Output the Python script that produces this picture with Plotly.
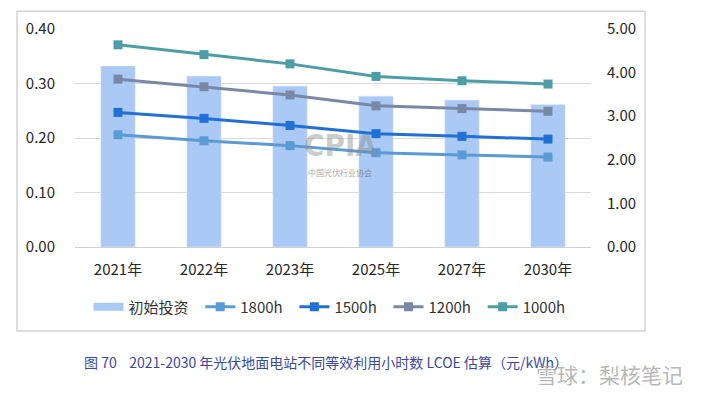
import plotly.graph_objects as go

years = ["2021年", "2022年", "2023年", "2025年", "2027年", "2030年"]
investment = [4.15, 3.92, 3.69, 3.46, 3.37, 3.27]
lcoe_1800 = [0.206, 0.195, 0.186, 0.173, 0.169, 0.165]
lcoe_1500 = [0.247, 0.236, 0.223, 0.208, 0.203, 0.198]
lcoe_1200 = [0.308, 0.294, 0.279, 0.259, 0.254, 0.249]
lcoe_1000 = [0.371, 0.353, 0.336, 0.313, 0.305, 0.299]
left_ticks = [0, 0.1, 0.2, 0.3, 0.4]
right_ticks = [0, 1, 2, 3, 4, 5]

FONT = "Noto Sans CJK SC, Microsoft YaHei, sans-serif"
TXT = "#262626"
BAR_COLOR = "#ABC9F5"
PAD = "\u00a0\u00a0"

fig = go.Figure()
fig.add_trace(go.Bar(x=years, y=investment, name="初始投资", marker_color=BAR_COLOR,
                     width=0.4, yaxis="y", showlegend=False))
# legend entry for the bars drawn as a wide flat swatch (as in the reference)
fig.add_trace(go.Scatter(x=[None], y=[None], name="初始投资" + PAD, mode="lines",
                         line=dict(color=BAR_COLOR, width=8), yaxis="y"))
series = [("1800h", lcoe_1800, "#5A9AD5"), ("1500h", lcoe_1500, "#2070D5"),
          ("1200h", lcoe_1200, "#7888A6"), ("1000h", lcoe_1000, "#4D9DA7")]
for name, vals, col in series:
    fig.add_trace(go.Scatter(x=years, y=vals, name=name + PAD, mode="lines+markers",
                             line=dict(color=col, width=3),
                             marker=dict(symbol="square", size=9, color=col),
                             yaxis="y2"))

fig.update_layout(
    width=705, height=394,
    margin=dict(l=75, r=114, t=28.7, b=147),
    paper_bgcolor="white", plot_bgcolor="white",
    font=dict(family=FONT, size=15, color=TXT),
    showlegend=True,
    legend=dict(orientation="h", x=0.50, xanchor="center", y=-0.275, yanchor="middle",
                font=dict(size=15, color="#333333"), itemwidth=30, traceorder="normal",
                bgcolor="rgba(0,0,0,0)"),
    xaxis=dict(showgrid=False, showline=True, linecolor="#D0D0D0", linewidth=1,
               ticks="", ticklabelstandoff=9, tickfont=dict(size=15, color=TXT)),
    yaxis=dict(side="right", range=[0, 5], tickvals=right_ticks, tickformat=".2f",
               showgrid=False, zeroline=False, ticklabelstandoff=15,
               tickfont=dict(size=15, color=TXT)),
    yaxis2=dict(side="left", overlaying="y", range=[0, 0.4], tickvals=left_ticks,
                tickformat=".2f", showgrid=True, gridcolor="#D9D9D9", gridwidth=1.3,
                zeroline=False, ticklabelstandoff=19, tickfont=dict(size=15, color=TXT)),
    bargap=0.6,
)

# outer chart border
fig.add_shape(type="rect", xref="paper", yref="paper", x0=-0.1124, x1=1.1047,
              y0=-0.385, y1=1.081, line=dict(color="#D4D4D4", width=1.5), layer="below")

# faint CPIA watermark
fig.add_annotation(text="<b>CPIA</b>", xref="paper", yref="paper", x=0.514, y=0.467,
                   showarrow=False,
                   font=dict(size=31, color="rgba(140,140,140,0.45)",
                             family="Liberation Sans Narrow, DejaVu Sans Condensed, sans-serif"))
fig.add_annotation(text="中国光伏行业协会", xref="paper", yref="paper", x=0.514, y=0.307,
                   showarrow=False, font=dict(size=8, color="rgba(100,100,100,0.6)"))

# caption
fig.add_annotation(text="图 70    2021-2030 年光伏地面电站不同等效利用小时数 LCOE 估算（元/kWh）",
                   xref="paper", yref="paper", x=(82 - 75) / 516, xanchor="left",
                   y=(247 - 362) / 218.3, yanchor="middle", showarrow=False,
                   font=dict(size=14, color="#3A48A8"))
# platform watermark
fig.add_annotation(text="雪球：梨核笔记", xref="paper", yref="paper", x=(685 - 75) / 516,
                   xanchor="right", y=(247 - 374) / 218.3, yanchor="middle", showarrow=False,
                   font=dict(size=21, color="rgba(160,160,160,0.75)"))

fig.write_html("out.html", config={"displayModeBar": False},
               post_script="document.body.style.margin='0';")
